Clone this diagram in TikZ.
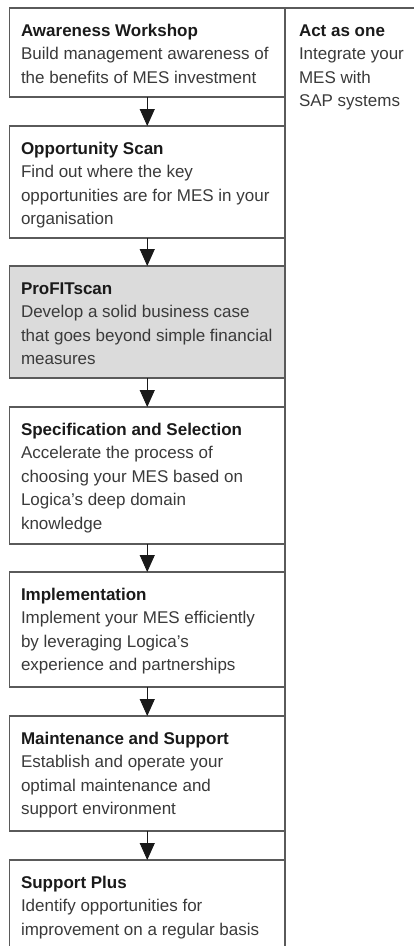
\documentclass[tikz,border=0pt]{standalone}
\usepackage{fontspec}
\setmainfont{Liberation Sans}
\usetikzlibrary{arrows.meta}
\definecolor{linegray}{HTML}{5A5A5A}
\definecolor{fillgray}{HTML}{DBDBDB}
\definecolor{bodytxt}{HTML}{3A3A3A}
\definecolor{headtxt}{HTML}{1A1A1A}
\newcommand{\hd}[1]{\textcolor{headtxt}{\textbf{#1}}}
\begin{document}
\begin{tikzpicture}[x=1pt,y=1pt,
  stepbox/.style={rectangle,draw=linegray,line width=1.1pt,minimum width=275.5pt,inner sep=0pt,outer sep=0pt,anchor=north west},
  frameline/.style={draw=linegray,line width=1.1pt},
  txtnode/.style={anchor=base west,inner sep=0pt,outer sep=0pt,text=bodytxt,font=\fontsize{17}{23.5}\selectfont},
  flow/.style={draw=black!90,line width=0.9pt,-{Triangle[width=15pt,length=17pt]}}]
\useasboundingbox (0,0) rectangle (414,-946);
% boxes
\node[stepbox,minimum height=89pt]  (b1) at (9.5,-8) {};
\node[stepbox,minimum height=112pt] (b2) at (9.5,-126) {};
\node[stepbox,minimum height=112pt,fill=fillgray] (b3) at (9.5,-266) {};
\node[stepbox,minimum height=137pt] (b4) at (9.5,-407) {};
\node[stepbox,minimum height=115pt] (b5) at (9.5,-572) {};
\node[stepbox,minimum height=115pt] (b6) at (9.5,-716) {};
\node[stepbox,minimum height=100pt] (b7) at (9.5,-860) {};
% frame lines
\coordinate (rtop) at (285,-8);
\coordinate (rbot) at (285,-952);
\coordinate (ttop) at (418,-8);
\draw[frameline] (rtop) -- (rbot);
\draw[frameline] (b1.north west) -- (ttop);
% arrows
\draw[flow] (b1.south) -- (b2.north);
\draw[flow] (b2.south) -- (b3.north);
\draw[flow] (b3.south) -- (b4.north);
\draw[flow] (b4.south) -- (b5.north);
\draw[flow] (b5.south) -- (b6.north);
\draw[flow] (b6.south) -- (b7.north);
% texts
\node[txtnode] (t1) at (21,-36) {\parbox[t]{300pt}{\hd{Awareness Workshop}\\Build management awareness of\\the benefits of MES investment}};
\node[txtnode] (t2) at (21,-154) {\parbox[t]{300pt}{\hd{Opportunity Scan}\\Find out where the key\\opportunities are for MES in your\\organisation}};
\node[txtnode] (t3) at (21,-294) {\parbox[t]{300pt}{\hd{ProFITscan}\\Develop a solid business case\\that goes beyond simple financial\\measures}};
\node[txtnode] (t4) at (21,-435) {\parbox[t]{300pt}{\hd{Specification and Selection}\\Accelerate the process of\\choosing your MES based on\\Logica’s deep domain\\knowledge}};
\node[txtnode] (t5) at (21,-600) {\parbox[t]{300pt}{\hd{Implementation}\\Implement your MES efficiently\\by leveraging Logica’s\\experience and partnerships}};
\node[txtnode] (t6) at (21,-744) {\parbox[t]{300pt}{\hd{Maintenance and Support}\\Establish and operate your\\optimal maintenance and\\support environment}};
\node[txtnode] (t7) at (21,-888) {\parbox[t]{300pt}{\hd{Support Plus}\\Identify opportunities for\\improvement on a regular basis}};
\node[txtnode] (t8) at (299,-36) {\parbox[t]{120pt}{\hd{Act as one}\\Integrate your\\MES with\\SAP systems}};
\end{tikzpicture}
\end{document}
